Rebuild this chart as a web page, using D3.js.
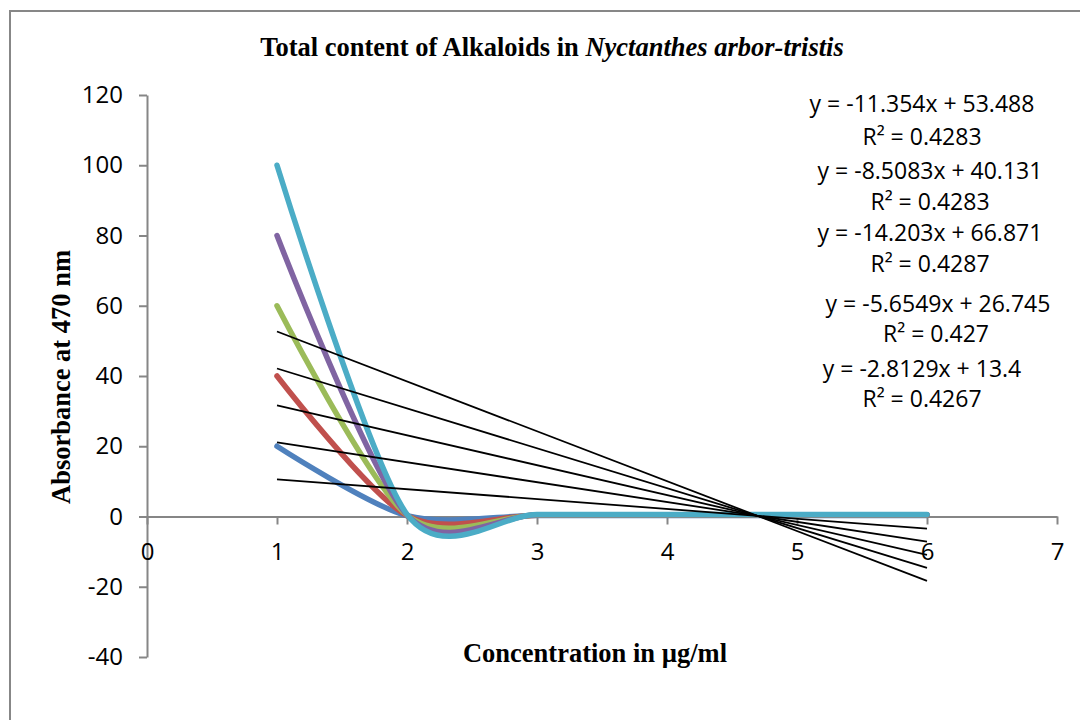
<!DOCTYPE html>
<html>
<head>
<meta charset="utf-8">
<script src="https://cdn.jsdelivr.net/npm/d3@7"></script>
<style>
  html, body { margin: 0; padding: 0; background: #fff; }
</style>
</head>
<body>
<div class="chart"></div>
<script>
// concentration (x) and absorbance values for the 5 series
const conc = [1, 2, 3, 4, 5, 6];
const series1 = [20, 0.22, 0.28, 0.28, 0.28, 0.28];
const series2 = [40, 0.27, 0.36, 0.36, 0.36, 0.36];
const series3 = [60, 0.40, 0.43, 0.43, 0.43, 0.43];
const series4 = [80, 0.47, 0.50, 0.50, 0.50, 0.50];
const series5 = [100, 0.61, 0.59, 0.59, 0.59, 0.59];
const colors = ['#4F81BD', '#C0504D', '#9BBB59', '#8064A2', '#4BACC6'];

// linear trendlines shown on the chart
const slopes = [-2.8129, -5.6549, -8.5083, -11.354, -14.203];
const intercepts = [13.4, 26.745, 40.131, 53.488, 66.871];
const rSquared = ['0.4267', '0.427', '0.4283', '0.4283', '0.4287'];

const xTicks = [0, 1, 2, 3, 4, 5, 6, 7];
const yTicks = [-40, -20, 0, 20, 40, 60, 80, 100, 120];

// where each equation label sits (pixels): [eq center, eq baseline, R2 center, R2 baseline]
const labelPos = [
  [922, 377, 922, 407],
  [938, 312, 936, 342],
  [930, 179, 930, 210],
  [922, 112, 922, 145],
  [930, 241, 930, 272]
];

const W = 1080, H = 720;
const axisColor = '#868686';
const numFont = '"Open Sans", sans-serif';
const serifFont = '"Liberation Serif", "Times New Roman", serif';

const svg = d3.select('.chart')
  .append('svg')
  .attr('width', W)
  .attr('height', H)
  .style('display', 'block');

// outer chart frame
svg.append('rect')
  .attr('x', 10).attr('y', 11)
  .attr('width', W + 20).attr('height', H + 20)
  .attr('fill', 'none')
  .attr('stroke', '#878787')
  .attr('stroke-width', 2);

var x = d3.scaleLinear().domain([0, 7]).range([147, 1057]);
var y = d3.scaleLinear().domain([-40, 120]).range([657, 95]);

// Y axis
svg.append('g')
  .attr('transform', 'translate(' + x(0) + ',0)')
  .call(d3.axisLeft(y)
    .tickValues(yTicks)
    .tickFormat(d => String(d))
    .tickSize(8)
    .tickSizeOuter(0)
    .tickPadding(16))
  .call(g => g.select('.domain').attr('stroke', axisColor).attr('stroke-width', 2))
  .call(g => g.selectAll('.tick line').attr('stroke', axisColor).attr('stroke-width', 2))
  .call(g => g.selectAll('.tick text')
    .attr('fill', '#000')
    .style('font-family', numFont)
    .style('font-size', '24px'));

// X axis crossing at y = 0
svg.append('g')
  .attr('transform', 'translate(0,' + y(0) + ')')
  .call(d3.axisBottom(x)
    .tickValues(xTicks)
    .tickFormat(d => String(d))
    .tickSize(8)
    .tickSizeOuter(0)
    .tickPadding(18))
  .call(g => g.select('.domain').attr('stroke', axisColor).attr('stroke-width', 2))
  .call(g => g.selectAll('.tick line').attr('stroke', axisColor).attr('stroke-width', 2))
  .call(g => g.selectAll('.tick text')
    .attr('fill', '#000')
    .style('font-family', numFont)
    .style('font-size', '24px'));

// smoothed data lines
const allSeries = [series1, series2, series3, series4, series5];
const line = d3.line()
  .x(d => x(d[0]))
  .y(d => y(d[1]))
  .curve(d3.curveCardinal.tension(0.15));

allSeries.forEach(function (vals, i) {
  svg.append('path')
    .datum(conc.map((c, j) => [c, vals[j]]))
    .attr('fill', 'none')
    .attr('stroke', colors[i])
    .attr('stroke-width', 5.5)
    .attr('stroke-linecap', 'round')
    .attr('stroke-linejoin', 'round')
    .attr('d', line);
});

// trendlines from first to last concentration
const xMin = d3.min(conc), xMax = d3.max(conc);
slopes.forEach(function (m, i) {
  const b = intercepts[i];
  svg.append('line')
    .attr('x1', x(xMin)).attr('y1', y(m * xMin + b))
    .attr('x2', x(xMax)).attr('y2', y(m * xMax + b))
    .attr('stroke', '#000')
    .attr('stroke-width', 1.8);
});

// equation labels
slopes.forEach(function (m, i) {
  const p = labelPos[i];
  svg.append('text')
    .attr('x', p[0]).attr('y', p[1])
    .attr('text-anchor', 'middle')
    .style('font-family', numFont)
    .style('font-size', '23px')
    .text('y = ' + m + 'x + ' + intercepts[i]);
  svg.append('text')
    .attr('x', p[2]).attr('y', p[3])
    .attr('text-anchor', 'middle')
    .style('font-family', numFont)
    .style('font-size', '23px')
    .text('R² = ' + rSquared[i]);
});

// title
const title = svg.append('text')
  .attr('x', 552).attr('y', 56)
  .attr('text-anchor', 'middle')
  .style('font-family', serifFont)
  .style('font-size', '26.5px')
  .style('font-weight', 'bold');
title.append('tspan').text('Total content of Alkaloids in ');
title.append('tspan').style('font-style', 'italic').text('Nyctanthes arbor-tristis');

// axis titles
svg.append('text')
  .attr('transform', 'rotate(-90)')
  .attr('x', -377).attr('y', 70)
  .attr('text-anchor', 'middle')
  .style('font-family', serifFont)
  .style('font-size', '26.5px')
  .style('font-weight', 'bold')
  .text('Absorbance at 470 nm');

svg.append('text')
  .attr('x', 595).attr('y', 662)
  .attr('text-anchor', 'middle')
  .style('font-family', serifFont)
  .style('font-size', '26.5px')
  .style('font-weight', 'bold')
  .text('Concentration in µg/ml');
</script>
</body>
</html>
